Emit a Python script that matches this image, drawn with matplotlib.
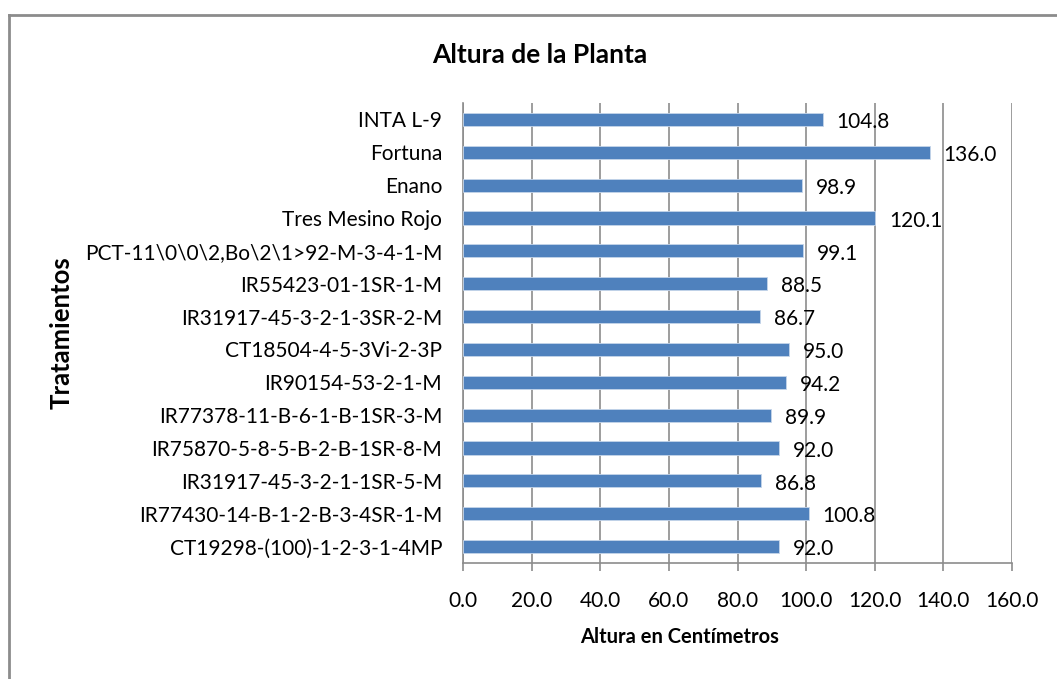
import numpy as np
import matplotlib
matplotlib.use('Agg')
import matplotlib.pyplot as plt
from matplotlib.lines import Line2D

plt.rcParams['font.family'] = ['Lato', 'DejaVu Sans']

# data, top to bottom as in the chart
tratamientos = ['INTA L-9', 'Fortuna', 'Enano', 'Tres Mesino Rojo',
	'PCT-11\\0\\0\\2,Bo\\2\\1>92-M-3-4-1-M', 'IR55423-01-1SR-1-M',
	'IR31917-45-3-2-1-3SR-2-M', 'CT18504-4-5-3Vi-2-3P', 'IR90154-53-2-1-M',
	'IR77378-11-B-6-1-B-1SR-3-M', 'IR75870-5-8-5-B-2-B-1SR-8-M',
	'IR31917-45-3-2-1-1SR-5-M', 'IR77430-14-B-1-2-B-3-4SR-1-M',
	'CT19298-(100)-1-2-3-1-4MP']
altura = [104.8, 136.0, 98.9, 120.1, 99.1, 88.5, 86.7, 95.0, 94.2, 89.9,
	92.0, 86.8, 100.8, 92.0]
xticks = [0, 20, 40, 60, 80, 100, 120, 140, 160]

fig = plt.figure(figsize=(10.57, 6.79), dpi=100)
ax = fig.add_axes([463/1057, 1-563/679, (1012-463)/1057, (563-103)/679])

y = np.arange(len(tratamientos))[::-1]
ax.barh(y, altura, height=0.4, color='#4F81BD', edgecolor='#C5D5EA', linewidth=0.6, zorder=3)
for yi, v in zip(y, altura):
	ax.annotate('%.1f' % v, (v, yi), xytext=(10, -2), textcoords='offset points',
		ha='left', va='center', fontsize=15, zorder=4)

ax.set_xlim(0, 160)
ax.set_ylim(-0.5, len(tratamientos) - 0.5)
ax.set_xticks(xticks)
ax.set_xticklabels(['%.1f' % t for t in xticks], fontsize=15)
ax.set_yticks(y)
ax.set_yticklabels(tratamientos, fontsize=15)
ax.grid(axis='x', color='#8C8C8C', linewidth=1.2, zorder=0)
for s in ['top', 'right']:
	ax.spines[s].set_visible(False)
ax.spines['left'].set_color('#8C8C8C')
ax.spines['bottom'].set_color('#8C8C8C')
ax.spines['left'].set_linewidth(1.2)
ax.spines['bottom'].set_linewidth(1.2)
ax.tick_params(axis='x', length=6, color='#8C8C8C', width=1.2, pad=14)
ax.tick_params(axis='y', length=0, pad=15)

fig.text(680/1057, 1-637/679, 'Altura en Centímetros', ha='center', va='center',
	fontsize=14.5, fontweight='bold')
fig.text(62/1057, 1-333/679, 'Tratamientos', ha='center', va='center', rotation=90,
	fontsize=18.5, fontweight='bold')
fig.text(540/1057, 1-55/679, 'Altura de la Planta', ha='center', va='center',
	fontsize=19, fontweight='bold')

# chart border (only left and top show)
fig.add_artist(Line2D([9/1057, 9/1057], [0, 1-15/679], color='#8C8C8C', lw=2))
fig.add_artist(Line2D([9/1057, 1], [1-15/679, 1-15/679], color='#8C8C8C', lw=2))

fig.savefig('out.png', dpi=100)
